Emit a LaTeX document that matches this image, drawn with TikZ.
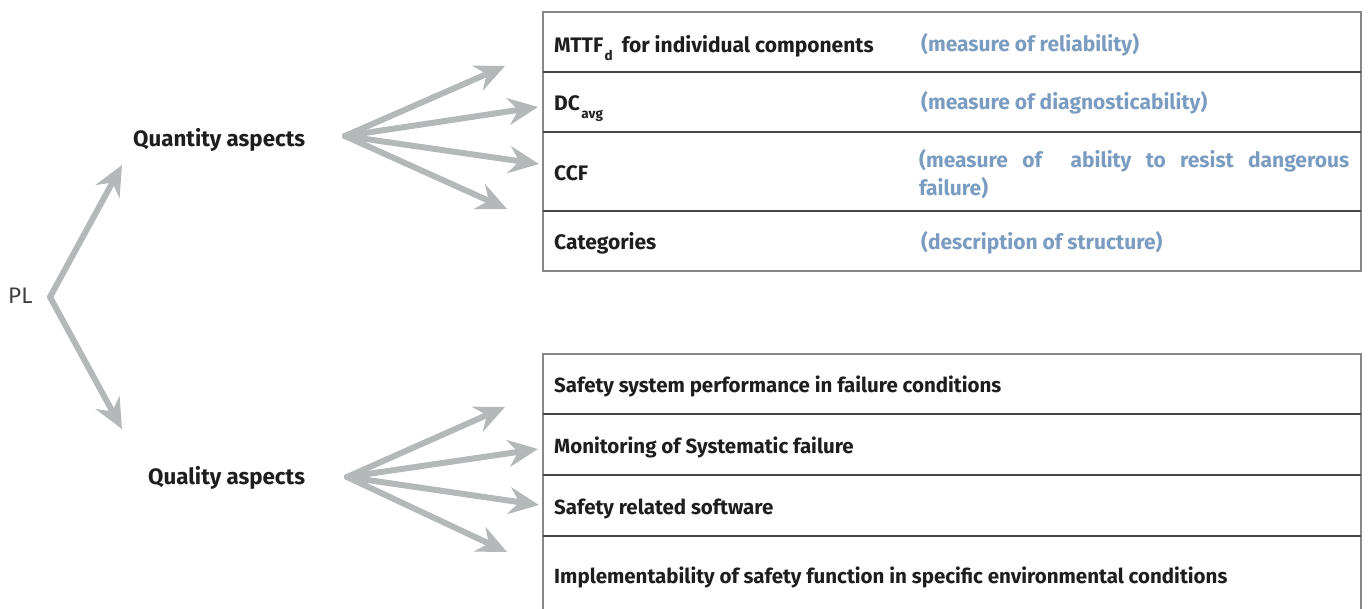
\documentclass[tikz,border=0pt]{standalone}
\usepackage{fontspec}
\setmainfont{Fira Sans}
\usetikzlibrary{arrows.meta}
\definecolor{arrowgray}{RGB}{180,184,184}
\definecolor{descblue}{RGB}{122,156,192}
\definecolor{outerline}{RGB}{135,135,135}
\definecolor{innerline}{RGB}{70,70,70}
\definecolor{textdark}{RGB}{30,30,30}
\tikzset{
  bigarrow/.style={draw=arrowgray, line width=6pt, line cap=round,
    -{Stealth[length=30pt,width=27pt,inset=10pt]}},
  itemtext/.style={anchor=base west, inner sep=0pt, text=textdark,
    font=\bfseries\fontsize{20.5}{28}\selectfont},
  topitem/.style={itemtext, font=\bfseries\fontsize{21}{28}\selectfont},
  desctext/.style={topitem, text=descblue},
  headtext/.style={anchor=base west, inner sep=0pt, text=textdark,
    font=\bfseries\fontsize{22.3}{25}\selectfont},
  outerrule/.style={draw=outerline, line width=1.3pt},
  innerrule/.style={draw=innerline, line width=1.1pt},
}
\newcommand{\lowsub}[1]{\kern1.5pt\raisebox{-8pt}{\fontsize{13.5}{13.5}\selectfont #1}\kern4pt}
\begin{document}
\begin{tikzpicture}[x=1pt,y=-1pt]
\useasboundingbox (0,0) rectangle (1368,609);

% left labels
\node[anchor=base west, inner sep=0pt, text=textdark!85,
      font=\fontsize{22.5}{26}\selectfont] (pl) at (8,304) {PL};
\node[headtext] (quantity) at (133,147) {Quantity aspects};
\node[headtext] (quality) at (148,484) {Quality aspects};

% top table
\draw[outerrule] (543,12) rectangle (1361,271);
\draw[innerrule] (543,72) -- (1361,72);
\draw[innerrule] (543,132) -- (1361,132);
\draw[innerrule] (543,211) -- (1361,211);

\node[topitem] (mttf) at (554,53) {MTTF\lowsub{d}\ for individual components};
\node[desctext] (rel) at (921,52) {(measure of reliability)};
\node[topitem] (dc) at (554,111) {DC\lowsub{avg}};
\node[desctext] (diag) at (921,110) {(measure of diagnosticability)};
\node[topitem] (ccf) at (554,181) {CCF};
\node[desctext, anchor=north west, text width=430pt, align=justify] (resist) at (919,149)
  {(measure of\ \ ability to resist dangerous\linebreak failure)};
\node[topitem] (cat) at (554,250) {Categories};
\node[desctext] (struct) at (921,250) {(description of structure)};

% bottom table
\draw[outerrule] (543,620) -- (543,354) -- (1361,354) -- (1361,620);
\draw[innerrule] (543,414) -- (1361,414);
\draw[innerrule] (543,475) -- (1361,475);
\draw[innerrule] (543,536) -- (1361,536);

\node[itemtext] (perf) at (554,392) {Safety system performance in failure conditions};
\node[itemtext] (mon) at (554,453) {Monitoring of Systematic failure};
\node[itemtext] (soft) at (554,514) {Safety related software};
\node[itemtext] (impl) at (554,583) {Implementability of safety function in specific environmental conditions};

% arrow coordinates
\coordinate (plv) at (50,297);
\coordinate (upTip) at (122,165);
\coordinate (dnTip) at (122,429);
\coordinate (qn0) at (345,136);
\coordinate (qn1) at (505,66);
\coordinate (qn2) at (538,107);
\coordinate (qn3) at (539,164);
\coordinate (qn4) at (507,209);
\coordinate (ql0) at (347,477);
\coordinate (ql1) at (505,407);
\coordinate (ql2) at (538,449);
\coordinate (ql3) at (539,505);
\coordinate (ql4) at (507,552);

\draw[bigarrow] (plv) -- (upTip);
\draw[bigarrow] (plv) -- (dnTip);
\foreach \i in {1,2,3,4}{
  \draw[bigarrow] (qn0) -- (qn\i);
  \draw[bigarrow] (ql0) -- (ql\i);
}
\end{tikzpicture}
\end{document}
